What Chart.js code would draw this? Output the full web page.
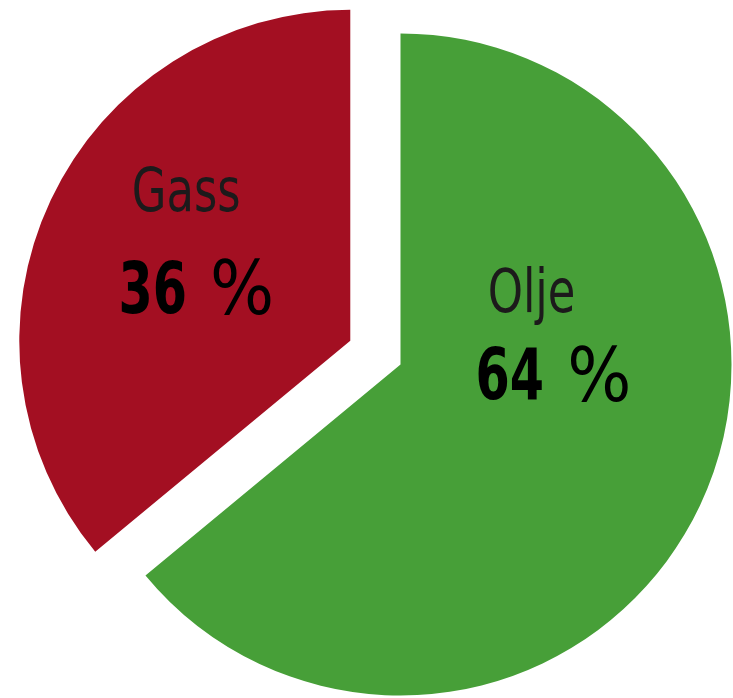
<!DOCTYPE html>
<html>
<head>
<meta charset="utf-8">
<script src="https://cdn.jsdelivr.net/npm/chart.js@4/dist/chart.umd.min.js"></script>
<style>
  html, body { margin: 0; padding: 0; background: #fff; }
  #wrap { width: 733px; height: 698px; }
</style>
</head>
<body>
<div id="wrap"><canvas id="kake"></canvas></div>
<script>
// data lest av bildet
const kategorier = ['Olje', 'Gass'];
const andeler = [64, 36];
const farger = ['#479f38', '#a30f22'];

const FONT = '"DejaVu Sans Condensed", "DejaVu Sans", sans-serif';

const eksplodert = [0, 55.5];

// trekker ut en bit av kaken, tegnet med Chart.js sine egne arc-elementer
const eksplodertBit = {
  id: 'eksplodertBit',
  beforeDatasetDraw(chart, args, opts) {
    const ctx = chart.ctx;
    args.meta.data.forEach((arc, i) => {
      const avstand = opts.avstand[i] || 0;
      const midt = (arc.startAngle + arc.endAngle) / 2;
      ctx.save();
      ctx.translate(Math.cos(midt) * avstand, Math.sin(midt) * avstand);
      arc.draw(ctx);
      ctx.restore();
    });
    return false;
  }
};

// tekst med smalere bredde (skrifta er kondensert i originalen)
function smalTekst(ctx, tekst, x, y, skala) {
  ctx.save();
  ctx.translate(x, y);
  ctx.scale(skala, 1);
  ctx.fillText(tekst, 0, 0);
  ctx.restore();
}

// etiketter: navn + prosent
const etiketter = {
  id: 'etiketter',
  afterDatasetsDraw(chart, args, opts) {
    const ctx = chart.ctx;
    const meta = chart.getDatasetMeta(0);
    meta.data.forEach((arc, i) => {
      const avstand = eksplodert[i] || 0;
      const midt = (arc.startAngle + arc.endAngle) / 2;
      const f = opts.flytt[i];
      const cx = arc.x + Math.cos(midt) * avstand + f.dx;
      const cy = arc.y + Math.sin(midt) * avstand + f.dy;

      ctx.save();
      ctx.textBaseline = 'middle';

      // navn
      ctx.textAlign = 'center';
      ctx.fillStyle = '#1c1a1b';
      ctx.font = '60px ' + FONT;
      smalTekst(ctx, kategorier[i], cx + f.navnX, cy - opts.linjeAvstand[i], 0.83);

      // tallet i fet skrift, prosenttegnet tynt
      ctx.textAlign = 'left';
      const tall = String(andeler[i]);
      ctx.font = 'bold 72px ' + FONT;
      const bTall = ctx.measureText(tall).width * 0.76;
      ctx.font = '75px ' + FONT;
      const bMellom = ctx.measureText(' ').width * 1.08;
      const bPst = ctx.measureText('%').width;
      const x0 = cx - (bTall + bMellom + bPst) / 2;
      const y0 = cy + opts.linjeAvstand[i];
      ctx.fillStyle = '#000';
      ctx.font = 'bold 72px ' + FONT;
      smalTekst(ctx, tall, x0, y0, 0.76);
      ctx.font = '75px ' + FONT;
      ctx.fillText('%', x0 + bTall + bMellom, y0 + 1);
      ctx.restore();
    });
  }
};

new Chart(document.getElementById('kake'), {
  type: 'pie',
  data: {
    labels: kategorier,
    datasets: [{
      data: andeler,
      backgroundColor: farger,
      borderWidth: 0,
      clip: false
    }]
  },
  options: {
    responsive: true,
    maintainAspectRatio: false,
    animation: false,
    radius: 331,
    layout: { padding: { left: 68, right: 0, top: 31, bottom: 0 } },
    plugins: {
      legend: { display: false },
      tooltip: { enabled: false },
      eksplodertBit: { avstand: eksplodert },
      etiketter: {
        flytt: [
          { dx: 153, dy: -26, navnX: -22 },
          { dx: -154, dy: -96, navnX: -10 }
        ],
        linjeAvstand: [42, 49]
      }
    }
  },
  plugins: [eksplodertBit, etiketter]
});
</script>
</body>
</html>
